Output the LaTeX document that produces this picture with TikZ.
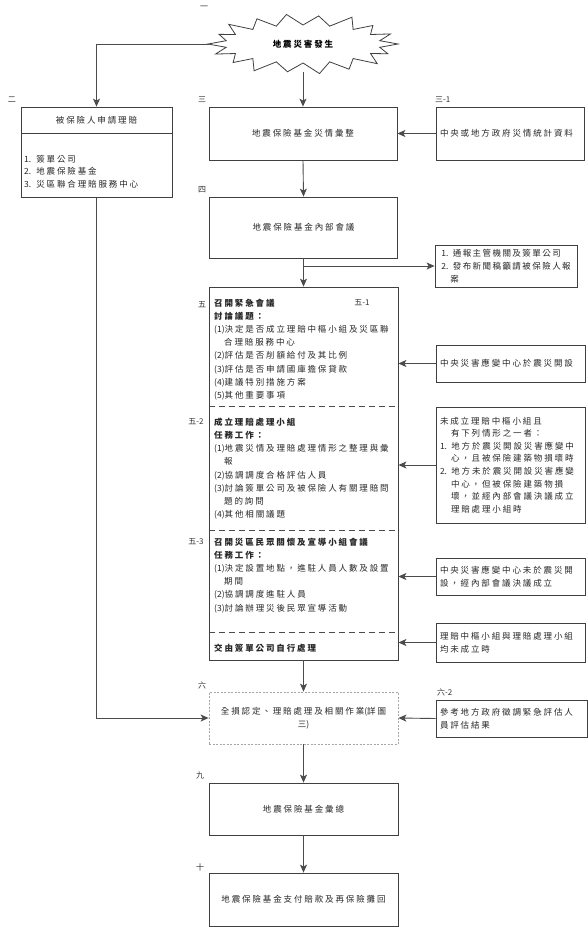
\documentclass[tikz,border=0pt]{standalone}
\usepackage{fontspec}
\setmainfont{Noto Sans CJK TC}[LetterSpace=22]
\newfontfamily\lblfont{Noto Sans CJK TC}
\usetikzlibrary{shapes.geometric,arrows.meta}
\newcommand\fs{\fontsize{8.5pt}{12.6pt}\selectfont}
\newcommand\fsb{\fontsize{8.5pt}{13.1pt}\selectfont}
\newcommand\nm[1]{{\lblfont #1}}
\tikzset{
  bx/.style={draw=black!75, line width=0.8pt, rectangle, inner sep=0pt, align=center, font=\fs, text=black!85},
  rbx/.style={bx, align=left, inner xsep=4pt, text width=141pt, minimum width=149pt},
  arr/.style={draw=black!70, line width=0.9pt, -{Stealth[length=8pt,width=7pt,inset=2pt]}},
  ln/.style={draw=black!70, line width=0.9pt},
  dv/.style={draw=black!70, line width=1.1pt, dash pattern=on 6pt off 4pt},
  tx/.style={inner sep=0pt, align=left, anchor=north west, text=black!85},
  lb/.style={inner sep=0pt, font=\lblfont\fontsize{8pt}{9pt}\selectfont, text=black!80},
}
\begin{document}
\begin{tikzpicture}[x=1pt,y=-1pt]
\useasboundingbox[fill=white] (0,0) rectangle (588,927);

% labels
\node[lb] (l1) at (204,8) {一};
\node[lb] (l2) at (12,100) {二};
\node[lb] (l3) at (202,100) {三};
\node[lb, anchor=west] (l31) at (435,100) {三-1};
\node[lb] (l4) at (202,190) {四};
\node[lb] (l5) at (202,305) {五};
\node[lb] (l51) at (362,303) {五-1};
\node[lb] (l52) at (196,422) {五-2};
\node[lb] (l53) at (196,542) {五-3};
\node[lb] (l6) at (202,685) {六};
\node[lb, anchor=west] (l62) at (437,692) {六-2};
\node[lb] (l9) at (200,775) {九};
\node[lb] (l10) at (200,867) {十};

% burst
\draw[draw=black!75, line width=0.8pt, fill=white, line join=miter, miter limit=20]
  ({303+78*cos(-10)},{44+19*sin(-10)})
  \foreach \a/\j in {0/1.0,20/0.95,40/1.02,60/0.97,80/1.0,100/0.94,120/1.03,140/0.96,160/0.98,
                     180/1.0,200/0.94,220/1.02,240/0.97,260/1.0,280/0.95,300/1.03,320/0.96,340/0.98}
  { -- ({303+95*\j*cos(\a)},{44+30*\j*sin(\a)}) -- ({303+78*cos(\a+10)},{44+19*sin(\a+10)}) } -- cycle;
\node[ellipse, minimum width=188pt, minimum height=56pt, inner sep=0pt,
      font=\fs\bfseries, text=black] (burst) at (303,44) {地震災害發生};

% left claim box
\node[bx, minimum width=151pt, minimum height=26pt] (claimhead) at (96.5,120) {被保險人申請理賠};
\node[bx, minimum width=151pt, minimum height=64pt, anchor=north] (claimlist) at (claimhead.south) {};
\node[tx, font=\fs] (claimtext) at (24,155) {\nm{1.} 簽單公司\\\nm{2.} 地震保險基金\\\nm{3.} 災區聯合理賠服務中心};

% main column
\node[bx, minimum width=188pt, minimum height=53pt] (fundsum) at (303,133.5) {地震保險基金災情彙整};
\node[rbx, text width=140pt, minimum width=148pt, minimum height=53pt] (govstat) at (510,133.5) {中央或地方政府災情統計資料};
\node[bx, minimum width=188pt, minimum height=61pt] (meeting) at (303.5,227.5) {地震保險基金內部會議};
\node[bx, align=left, inner xsep=2pt, minimum width=142pt, minimum height=42pt,
      font=\fontsize{8.5pt}{13pt}\selectfont\addfontfeature{LetterSpace=17}] (notify) at (506,266)
  {\nm{1.} 通報主管機關及簽單公司\\\nm{2.} 發布新聞稿籲請被保險人報\\\hspace*{9pt}案};
\coordinate (branch) at (303.5,266);

% emergency box
\node[bx, minimum width=189pt, minimum height=373pt] (emerg) at (303.5,473.5) {};
\draw[dv] ([yshift=-120pt]emerg.north west) -- ([yshift=-120pt]emerg.north east);
\draw[dv] ([yshift=-244pt]emerg.north west) -- ([yshift=-244pt]emerg.north east);
\draw[dv] ([yshift=-346pt]emerg.north west) -- ([yshift=-346pt]emerg.north east);

\node[tx, font=\fsb] (sec1) at (214,299) {\textbf{召開緊急會議}\\\textbf{討論議題：}\\\nm{(1)}決定是否成立理賠中樞小組及災區聯\\\hspace*{10pt}合理賠服務中心\\\nm{(2)}評估是否削額給付及其比例\\\nm{(3)}評估是否申請國庫擔保貸款\\\nm{(4)}建議特別措施方案\\\nm{(5)}其他重要事項};
\node[tx, font=\fsb] (sec2) at (214,418) {\textbf{成立理賠處理小組}\\\textbf{任務工作：}\\\nm{(1)}地震災情及理賠處理情形之整理與彙\\\hspace*{10pt}報\\\nm{(2)}協調調度合格評估人員\\\nm{(3)}討論簽單公司及被保險人有關理賠問\\\hspace*{10pt}題的詢問\\\nm{(4)}其他相關議題};
\node[tx, font=\fsb] (sec3) at (214,538) {\textbf{召開災區民眾關懷及宣導小組會議}\\\textbf{任務工作：}\\\nm{(1)}決定設置地點，進駐人員人數及設置\\\hspace*{10pt}期間\\\nm{(2)}協調調度進駐人員\\\nm{(3)}討論辦理災後民眾宣導活動};
\node[tx, font=\fsb] (sec4) at (214,644) {\textbf{交由簽單公司自行處理}};

% right condition boxes
\node[rbx, minimum height=37pt] (sc1) at (510.5,363.5) {中央災害應變中心於震災開設};
\node[rbx, minimum height=116pt] (nosc) at (510.5,465)
  {未成立理賠中樞小組且\\\hspace*{11pt}有下列情形之一者：\\\nm{1.} 地方於震災開設災害應變中\\\hspace*{11pt}心，且被保險建築物損壞時\\\nm{2.} 地方未於震災開設災害應變\\\hspace*{11pt}中心，但被保險建築物損\\\hspace*{11pt}壞，並經內部會議決議成立\\\hspace*{11pt}理賠處理小組時};
\node[rbx, minimum height=37pt] (sc2) at (510.5,576.5) {中央災害應變中心未於震災開\\設，經內部會議決議成立};
\node[rbx, minimum height=39pt] (none) at (510.5,642.5) {理賠中樞小組與理賠處理小組\\均未成立時};

% lower column
\node[bx, draw=black!35, dash pattern=on 2pt off 1.5pt, minimum width=189pt, minimum height=52pt] (full) at (303.5,718) {全損認定、理賠處理及相關作業\nm{(}詳圖\\三\nm{)}};
\node[rbx, text width=143pt, minimum width=151pt, minimum height=37pt] (ref) at (511.5,718.5) {參考地方政府徵調緊急評估人\\員評估結果};
\node[bx, minimum width=189pt, minimum height=52pt] (summ) at (303.5,809) {地震保險基金彙總};
\node[bx, minimum width=189pt, minimum height=53pt] (pay) at (303.5,899.5) {地震保險基金支付賠款及再保險攤回};

% connectors
\draw[arr] (burst.west) -| (claimhead.north);
\draw[arr] (burst.south) -- (fundsum.north);
\draw[arr] (govstat.west) -- (fundsum.east);
\draw[arr] (fundsum.south) -- (meeting.north);
\draw[arr] (meeting.south) -- (emerg.north);
\draw[arr] (branch) -- (notify.west);
\draw[arr] (sc1.west) -- (sc1.west -| emerg.east);
\draw[arr] (nosc.west) -- (nosc.west -| emerg.east);
\draw[arr] (sc2.west) -- (sc2.west -| emerg.east);
\draw[arr] (none.west) -- (none.west -| emerg.east);
\draw[arr] (claimlist.south) |- (full.west);
\draw[arr] (emerg.south) -- (full.north);
\draw[arr] (ref.west) -- (full.east);
\draw[arr] (full.south) -- (summ.north);
\draw[arr] (summ.south) -- (pay.north);
\end{tikzpicture}
\end{document}
